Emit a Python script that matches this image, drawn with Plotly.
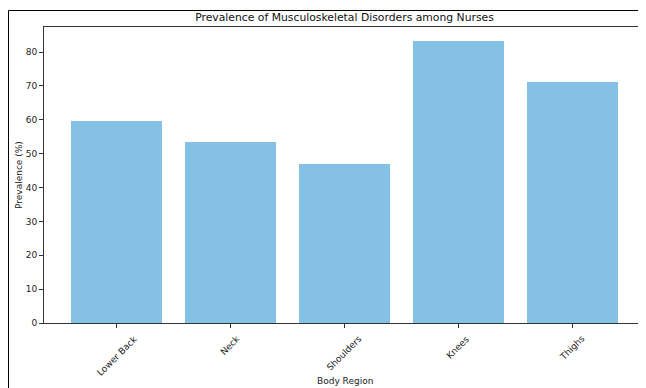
import plotly.graph_objects as go

regions = ["Lower Back", "Neck", "Shoulders", "Knees", "Thighs"]
prevalence = [59.6, 53.3, 46.9, 83.2, 71.2]
y_ticks = [0, 10, 20, 30, 40, 50, 60, 70, 80]

# the page adds an 8px body margin, so figure coords = page coords - 8
W, H = 638, 380
L, R, T, B = 36, 1, 19, 65
PW, PH = W - L - R, H - T - B
font = "DejaVu Sans"

fig = go.Figure()
fig.add_trace(go.Bar(
    x=list(range(len(regions))), y=prevalence,
    width=0.8,
    marker=dict(color="#85C1E5", line=dict(width=0)),
))

fig.update_layout(
    width=W, height=H,
    margin=dict(l=L, r=R, t=T, b=B, autoexpand=False),
    paper_bgcolor="white", plot_bgcolor="white",
    showlegend=False,
    font=dict(family=font, size=9, color="#222"),
    title=dict(text="Prevalence of Musculoskeletal Disorders among Nurses",
               x=(L + PW / 2) / W, xanchor="center",
               y=1 - 9.5 / H, yanchor="middle",
               font=dict(family=font, size=10.8, color="#111")),
    bargap=0,
)
fig.update_xaxes(
    range=[-0.64, 4.64],
    tickmode="array", tickvals=list(range(len(regions))), ticktext=[""] * len(regions),
    ticks="outside", ticklen=4, tickcolor="#333",
    showline=True, linecolor="#333", linewidth=1, mirror=True,
    showgrid=False, zeroline=False, automargin=False,
)
fig.update_yaxes(
    range=[0, 87.4],
    tickmode="array", tickvals=y_ticks,
    ticks="outside", ticklen=4, tickcolor="#333",
    showline=True, linecolor="#333", linewidth=1, mirror=True,
    showgrid=False, zeroline=False, automargin=False,
    tickfont=dict(size=9),
)
# rotated category labels, centred under ticks like matplotlib
for i, name in enumerate(regions):
    fig.add_annotation(x=i, y=0, xref="x", yref="y", text=name, textangle=-45,
                       showarrow=False, xanchor="center", yanchor="top",
                       yshift=-8, font=dict(size=9, color="#222"))
# axis titles
fig.add_annotation(x=0.5, y=-(373 - (T + PH)) / PH, xref="paper", yref="paper",
                   text="Body Region", showarrow=False, xanchor="center",
                   yanchor="middle", font=dict(size=9, color="#222"))
fig.add_annotation(x=-(L - 11) / PW, y=0.5, xref="paper", yref="paper",
                   text="Prevalence (%)", textangle=-90, showarrow=False,
                   xanchor="center", yanchor="middle", font=dict(size=9, color="#222"))
# outer figure frame
fig.add_shape(type="rect", xref="paper", yref="paper",
              x0=-(L - 0.5) / PW, x1=1.2, y0=-0.6, y1=1 + (T - 2.5) / PH,
              line=dict(color="black", width=1), fillcolor="rgba(0,0,0,0)",
              layer="above")
fig.write_html("out.html")
